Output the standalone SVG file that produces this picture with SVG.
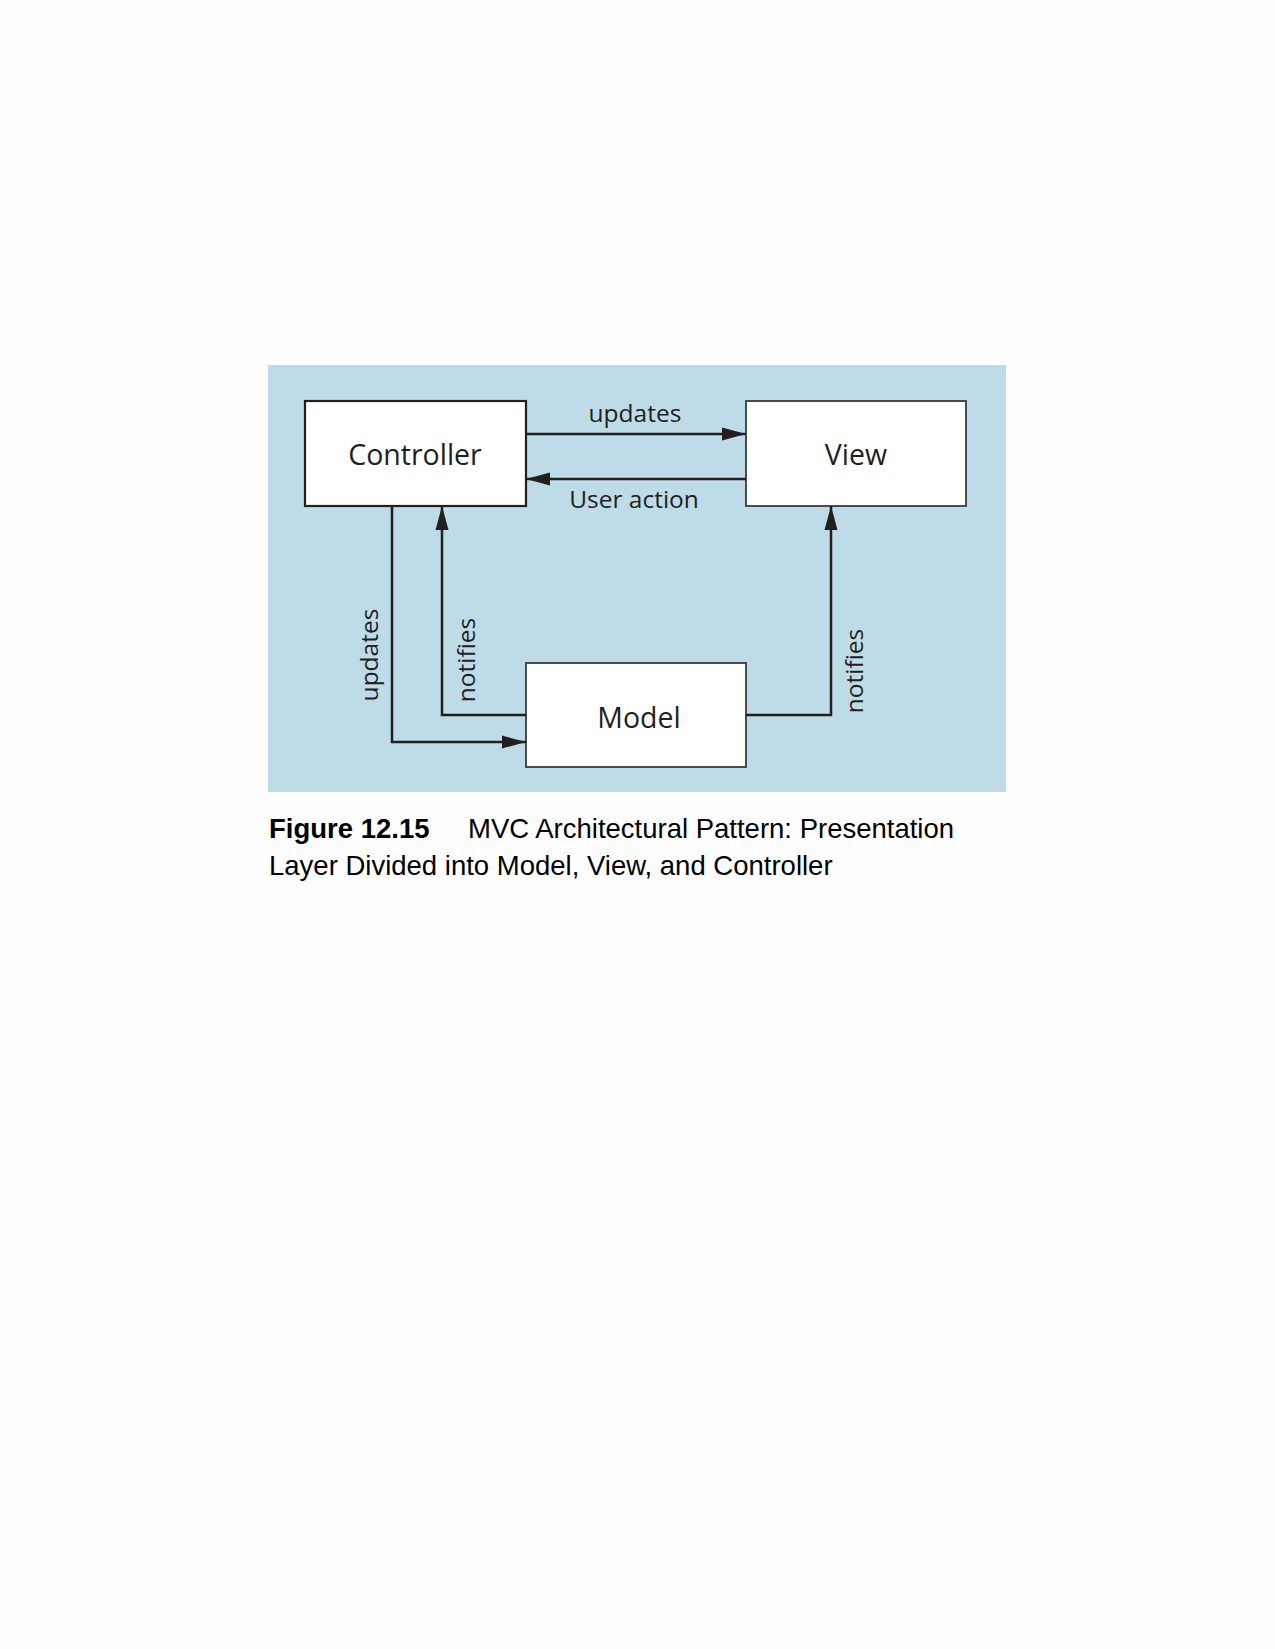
<svg xmlns="http://www.w3.org/2000/svg" width="1275" height="1649" viewBox="0 0 1275 1649">
<style>
.node rect{fill:#ffffff;stroke:#3a3a3a;stroke-width:1.8}
.lbl{font-family:"Open Sans","Noto Sans",sans-serif;font-size:28.5px;fill:#231f20;text-anchor:middle}
.elbl{font-family:"Open Sans","Noto Sans",sans-serif;font-size:24.5px;fill:#231f20;text-anchor:middle}
.conn{fill:none;stroke:#231f20;stroke-width:2.5;marker-end:url(#arr)}
.cap{font-family:"Liberation Sans",Arial,sans-serif;font-size:27.5px;fill:#000}
</style>
<defs>
<marker id="arr" markerUnits="userSpaceOnUse" markerWidth="24" markerHeight="14" refX="24" refY="7" orient="auto">
<path d="M0,0.5 L24,7 L0,13.5 z" fill="#231f20"/>
</marker>
</defs>
<rect width="1275" height="1649" fill="#fefefe"/>
<rect x="268" y="365" width="738" height="427" fill="#bddce8"/>
<g id="controller" class="node"><rect x="305" y="401" width="221" height="105" style="stroke:#231f20;stroke-width:2.2"/><text class="lbl" x="415" y="465">Controller</text></g>
<g id="view" class="node"><rect x="746" y="401" width="220" height="105"/><text class="lbl" x="856" y="465">View</text></g>
<g id="model" class="node"><rect x="526" y="663" width="220" height="104"/><text class="lbl" x="639" y="728">Model</text></g>
<g id="connectors">
<path class="conn" d="M526,434 H746"/>
<path class="conn" d="M746,479 H526"/>
<path class="conn" d="M392,506 V742 H526"/>
<path class="conn" d="M526,715 H442 V506"/>
<path class="conn" d="M746,715 H831 V506"/>
<text class="elbl" x="635" y="422">updates</text>
<text class="elbl" x="634" y="508">User action</text>
<text class="elbl" transform="translate(378,655) rotate(-90)">updates</text>
<text class="elbl" transform="translate(475,660) rotate(-90)">notifies</text>
<text class="elbl" transform="translate(863,671) rotate(-90)">notifies</text>
</g>
<text class="cap" x="269" y="838"><tspan font-weight="bold">Figure 12.15</tspan><tspan x="468">MVC Architectural Pattern: Presentation</tspan></text>
<text class="cap" x="269" y="875">Layer Divided into Model, View, and Controller</text>
</svg>
